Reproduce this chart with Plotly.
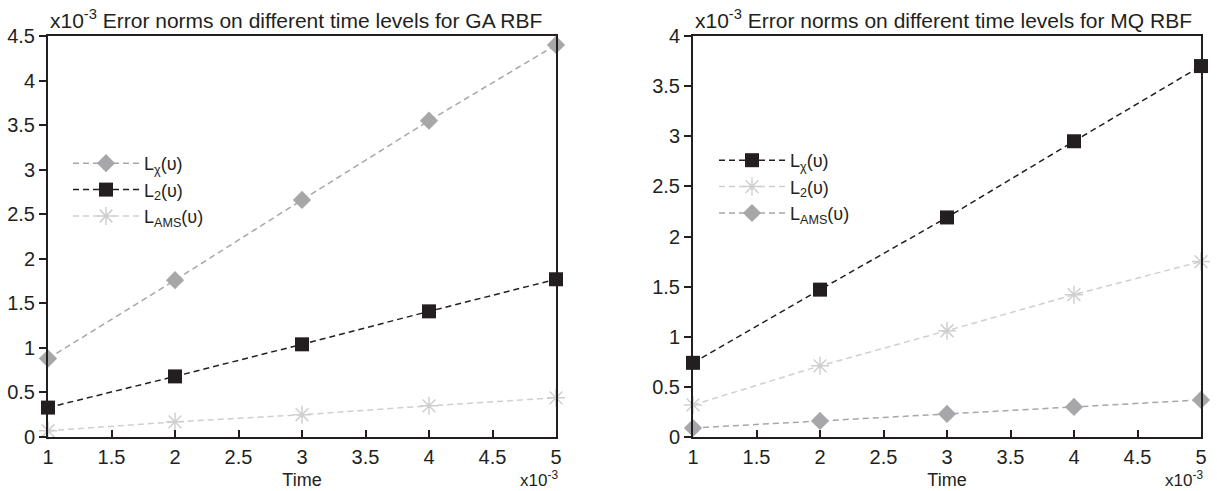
import plotly.graph_objects as go

# ---- data (values shown in units of 1e-3) ----
time = [1, 2, 3, 4, 5]

ga_linf = [0.88, 1.76, 2.66, 3.55, 4.40]
ga_l2 = [0.33, 0.68, 1.04, 1.41, 1.77]
ga_lams = [0.07, 0.17, 0.25, 0.35, 0.44]

mq_linf = [0.74, 1.47, 2.19, 2.95, 3.70]
mq_l2 = [0.32, 0.71, 1.06, 1.42, 1.75]
mq_lams = [0.09, 0.16, 0.23, 0.30, 0.37]

names = ["L<sub>χ</sub>(υ)", "L<sub>2</sub>(υ)", "L<sub>AMS</sub>(υ)"]
titles = ["Error norms on different time levels for GA RBF",
          "Error norms on different time levels for MQ RBF"]
xticks = [1, 1.5, 2, 2.5, 3, 3.5, 4, 4.5, 5]
yticks_ga = [0, 0.5, 1, 1.5, 2, 2.5, 3, 3.5, 4, 4.5]
yticks_mq = [0, 0.5, 1, 1.5, 2, 2.5, 3, 3.5, 4]

W, H = 1217, 491
FONT = "Liberation Sans, Arial, sans-serif"
INK = "#231f20"
GRAY = "#a7a7aa"
LIGHT = "#cfcfcf"

diamond = dict(symbol="diamond", size=14, color=GRAY)
square = dict(symbol="square", size=14, color=INK)
star = dict(symbol="asterisk-open", size=15, color=LIGHT, line=dict(color=LIGHT, width=1.5))

fig = go.Figure()

def add(x, y, name, marker, color, xa, ya, legend):
    fig.add_trace(go.Scatter(
        x=x, y=y, name=name, mode="lines+markers",
        line=dict(color=color, width=1.5, dash="6px,4px"),
        marker=marker, cliponaxis=False,
        xaxis=xa, yaxis=ya, legend=legend))

add(time, ga_linf, names[0], diamond, GRAY, "x", "y", "legend")
add(time, ga_l2, names[1], square, INK, "x", "y", "legend")
add(time, ga_lams, names[2], star, LIGHT, "x", "y", "legend")

add(time, mq_linf, names[0], square, INK, "x2", "y2", "legend2")
add(time, mq_l2, names[1], star, LIGHT, "x2", "y2", "legend2")
add(time, mq_lams, names[2], diamond, GRAY, "x2", "y2", "legend2")

top, bottom = 36, 437
dom1 = [48 / W, 556 / W]
dom2 = [693 / W, 1201 / W]

xcommon = dict(range=[1, 5], tickvals=xticks, ticks="inside", ticklen=7,
               tickcolor=INK, tickwidth=1.5, showline=True, linecolor=INK,
               linewidth=2, mirror=True, showgrid=False, zeroline=False,
               tickfont=dict(family=FONT, size=20, color=INK),
               ticklabelstandoff=1, automargin=False,
               title=dict(text="Time", font=dict(family=FONT, size=18, color=INK),
                          standoff=6))
ycommon = dict(ticks="outside", ticklen=7, tickcolor=INK, tickwidth=1.5,
               showline=True, linecolor=INK, linewidth=2, mirror=True,
               showgrid=False, zeroline=False, automargin=False,
               tickfont=dict(family=FONT, size=20, color=INK))

ph = bottom - top
fig.update_layout(
    width=W, height=H,
    margin=dict(l=0, r=0, t=top, b=H - bottom),
    paper_bgcolor="white", plot_bgcolor="white",
    font=dict(family=FONT, color=INK),
    xaxis=dict(domain=dom1, anchor="y", **xcommon),
    yaxis=dict(domain=[0, 1], anchor="x", range=[0, 4.5], tickvals=yticks_ga, **ycommon),
    xaxis2=dict(domain=dom2, anchor="y2", **xcommon),
    yaxis2=dict(domain=[0, 1], anchor="x2", range=[0, 4], tickvals=yticks_mq, **ycommon),
    legend=dict(x=68 / W, y=1 - (145 - top) / ph, xanchor="left", yanchor="top",
                bgcolor="rgba(0,0,0,0)", itemwidth=66, tracegroupgap=0,
                font=dict(family=FONT, size=18, color=INK)),
    legend2=dict(x=714 / W, y=1 - (142 - top) / ph, xanchor="left", yanchor="top",
                 bgcolor="rgba(0,0,0,0)", itemwidth=66, tracegroupgap=0,
                 font=dict(family=FONT, size=18, color=INK)),
    showlegend=True,
)

for dom, t in [(dom1, titles[0]), (dom2, titles[1])]:
    fig.add_annotation(x=dom[0], y=1, xref="paper", yref="paper", xanchor="left",
                       yanchor="bottom", yshift=2, showarrow=False, align="left",
                       text="x10<sup>-3</sup> " + t,
                       font=dict(family=FONT, size=21, color=INK))
    fig.add_annotation(x=dom[1], y=0, xref="paper", yref="paper", xanchor="right",
                       yanchor="top", yshift=-29, xshift=4, showarrow=False,
                       text="x10<sup>-3</sup>",
                       font=dict(family=FONT, size=17, color=INK))

fig.write_html("out.html", config={"displayModeBar": False},
               post_script="document.body.style.margin='0';document.body.style.overflow='hidden';")
